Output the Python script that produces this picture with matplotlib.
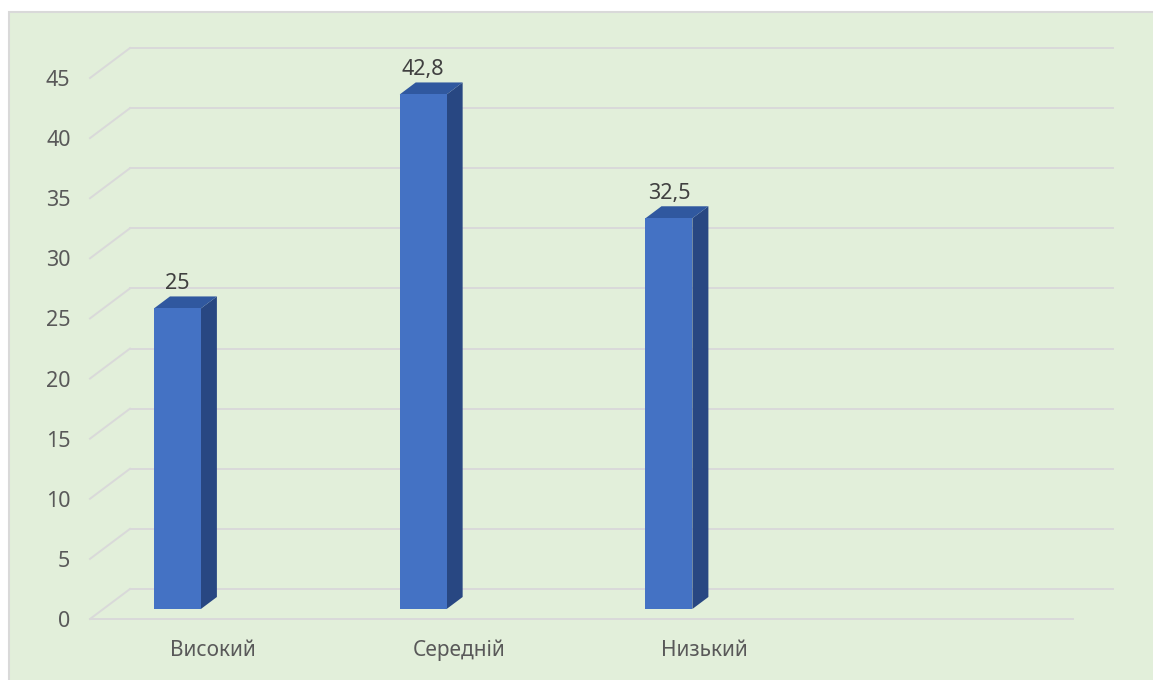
import matplotlib.pyplot as plt
from matplotlib.patches import Rectangle, Polygon

plt.rcParams['font.family'] = ['Noto Sans', 'DejaVu Sans']

categories = ['Високий', 'Середній', 'Низький']
values = [25, 42.8, 32.5]
labels = ['25', '42,8', '32,5']
n_slots = 4
y_ticks = list(range(0, 50, 5))

# oblique "3D" depth offset in data units
DX = 40 / 245.75
DY = 2.496
d_front, d_back = 1 / 3, 1 / 3 + 0.4
bar_left = 0.206
bar_w = 0.191

c_front = '#4472C4'
c_top = '#30589F'
c_side = '#284782'
c_grid = '#D9D9D9'

fig = plt.figure(figsize=(11.53, 6.8), dpi=100)
fig.patch.set_facecolor('white')
fig.patches.append(Rectangle((9 / 1153, -0.05), 1.1, (680 - 12) / 680 + 0.05,
                             transform=fig.transFigure, facecolor='#E2EFDA',
                             edgecolor='#D9D9D9', linewidth=1.5, zorder=-5))

ax = fig.add_axes([90 / 1153, 61 / 680, 983 / 1153, 541 / 680])
ax.set_facecolor('none')
ax.set_xlim(0, n_slots)
ax.set_ylim(0, 45)
for s in ax.spines.values():
    s.set_visible(False)

# walls / gridlines
for v in y_ticks:
    ax.plot([0, DX], [v, v + DY], color=c_grid, lw=1.4, clip_on=False, zorder=1)
    ax.plot([DX, n_slots + DX], [v + DY, v + DY], color=c_grid, lw=1.4, clip_on=False, zorder=1)
ax.plot([0, n_slots], [0, 0], color=c_grid, lw=1.4, clip_on=False, zorder=1)

# bars
for i, v in enumerate(values):
    x0 = i + bar_left
    xf = x0 + d_front * DX
    xb = x0 + d_back * DX
    yf = d_front * DY
    yb = d_back * DY
    ax.add_patch(Polygon([(xf + bar_w, yf), (xb + bar_w, yb), (xb + bar_w, v + yb), (xf + bar_w, v + yf)],
                         closed=True, facecolor=c_side, edgecolor='none', zorder=3))
    ax.add_patch(Polygon([(xf, v + yf), (xf + bar_w, v + yf), (xb + bar_w, v + yb), (xb, v + yb)],
                         closed=True, facecolor=c_top, edgecolor='none', zorder=3))
    ax.add_patch(Rectangle((xf, yf), bar_w, v, facecolor=c_front, edgecolor='none', zorder=4))
    ax.annotate(labels[i], (xf + bar_w / 2, v + yb), xytext=(0, 1.5), textcoords='offset points',
                ha='center', va='bottom', fontsize=15.5, color='#404040', zorder=5)

ax.set_yticks(y_ticks)
ax.set_yticklabels([str(t) for t in y_ticks])
ax.set_xticks([i + 0.5 for i in range(len(categories))])
ax.set_xticklabels(categories)
ax.tick_params(axis='y', length=0, pad=14, labelsize=15.5, labelcolor='#595959')
ax.tick_params(axis='x', length=0, pad=15, labelsize=15, labelcolor='#595959')

fig.savefig('out.png', dpi=100)
